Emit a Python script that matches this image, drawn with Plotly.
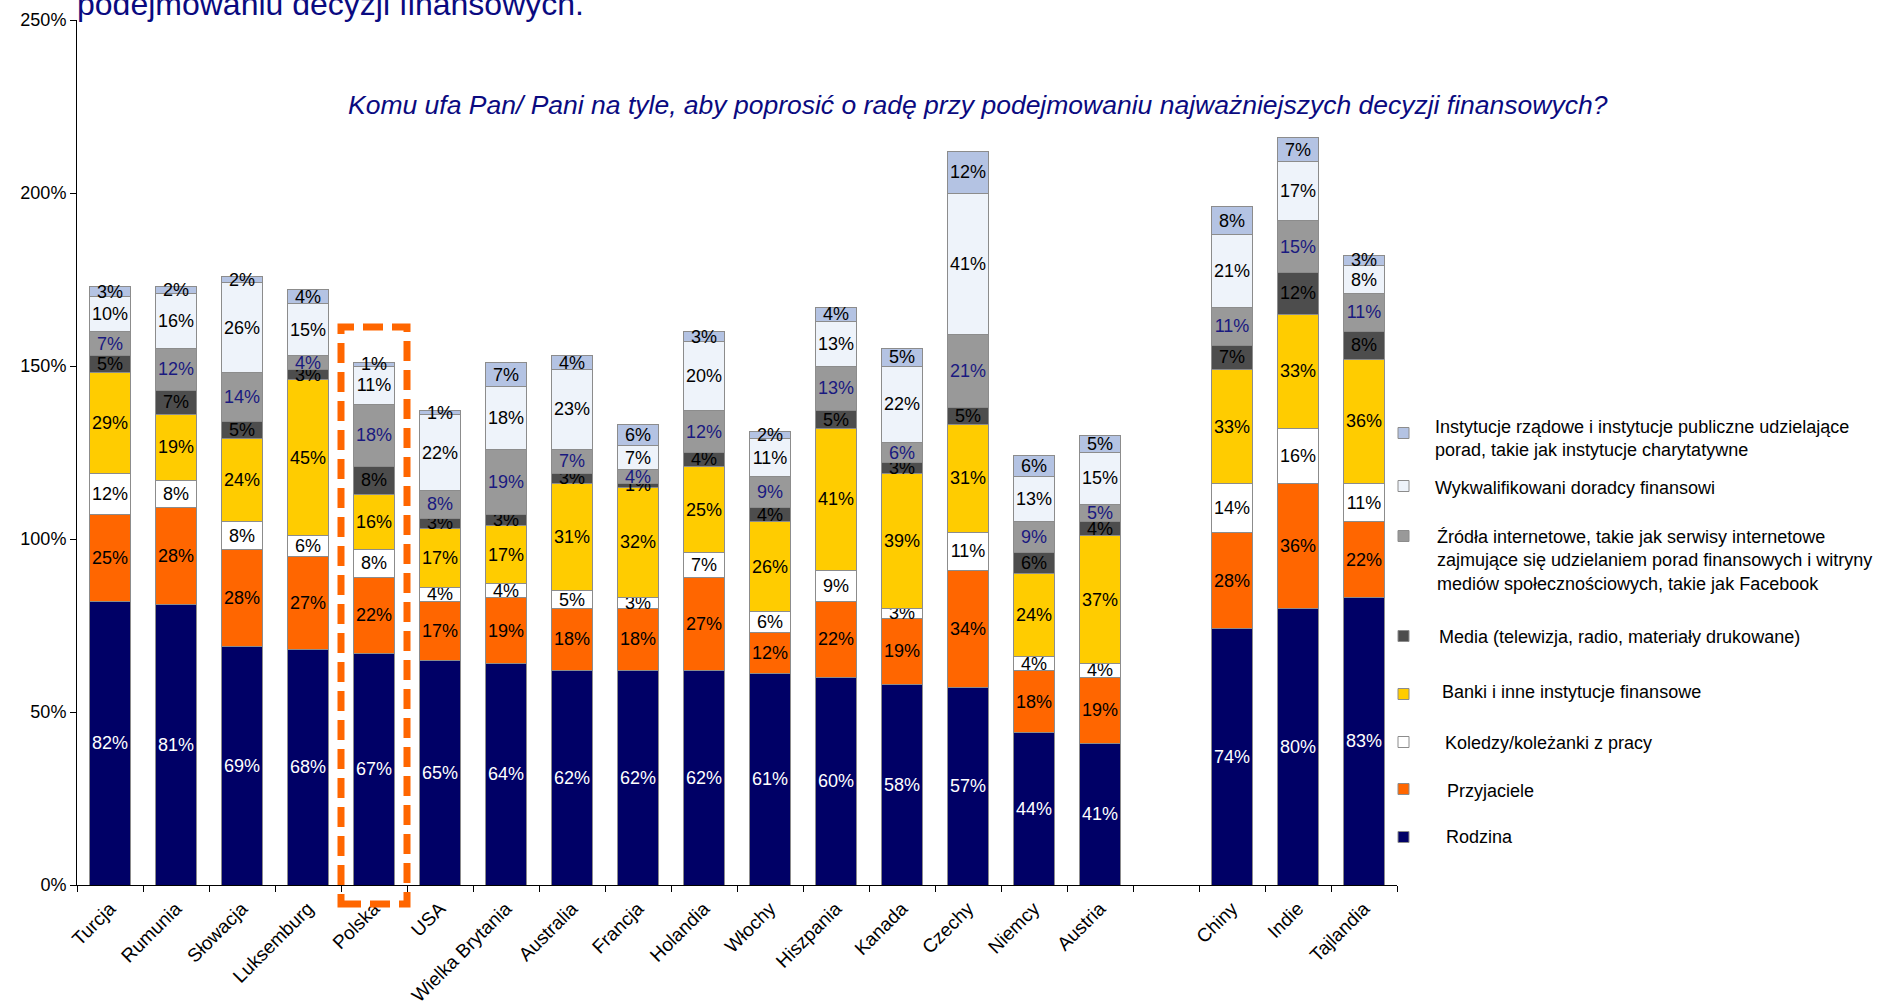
"""
Wykres słupkowy skumulowany: komu ufają respondenci przy decyzjach finansowych.
"""

import plotly.graph_objects as go


# Kraje (pusta kategoria oddziela grupę azjatycką)
COUNTRIES = ['Turcja', 'Rumunia', 'Słowacja', 'Luksemburg', 'Polska', 'USA',
             'Wielka Brytania', 'Australia', 'Francja', 'Holandia', 'Włochy',
             'Hiszpania', 'Kanada', 'Czechy', 'Niemcy', 'Austria', ' ',
             'Chiny', 'Indie', 'Tajlandia']

# Wartości serii w procentach (od dołu słupka)
rodzina = [82, 81, 69, 68, 67, 65, 64, 62, 62, 62, 61, 60, 58, 57, 44, 41, None, 74, 80, 83]
przyjaciele = [25, 28, 28, 27, 22, 17, 19, 18, 18, 27, 12, 22, 19, 34, 18, 19, None, 28, 36, 22]
koledzy = [12, 8, 8, 6, 8, 4, 4, 5, 3, 7, 6, 9, 3, 11, 4, 4, None, 14, 16, 11]
banki = [29, 19, 24, 45, 16, 17, 17, 31, 32, 25, 26, 41, 39, 31, 24, 37, None, 33, 33, 36]
media = [5, 7, 5, 3, 8, 3, 3, 3, 1, 4, 4, 5, 3, 5, 6, 4, None, 7, 12, 8]
zrodla = [7, 12, 14, 4, 18, 8, 19, 7, 4, 12, 9, 13, 6, 21, 9, 5, None, 11, 15, 11]
doradcy = [10, 16, 26, 15, 11, 22, 18, 23, 7, 20, 11, 13, 22, 41, 13, 15, None, 21, 17, 8]
instytucje = [3, 2, 2, 4, 1, 1, 7, 4, 6, 3, 2, 4, 5, 12, 6, 5, None, 8, 7, 3]

SERIES_NAMES = [
    'Rodzina',
    'Przyjaciele',
    'Koledzy/koleżanki z pracy',
    'Banki i inne instytucje finansowe',
    'Media (telewizja, radio, materiały drukowane)',
    'Źródła internetowe, takie jak serwisy internetowe<br>zajmujące się udzielaniem porad finansowych i witryny<br>mediów społecznościowych, takie jak Facebook',
    'Wykwalifikowani doradcy finansowi',
    'Instytucje rządowe i instytucje publiczne udzielające<br>porad, takie jak instytucje charytatywne',
]
SERIES_VALUES = [rodzina, przyjaciele, koledzy, banki, media, zrodla, doradcy, instytucje]

COLORS = ['#000066', '#FF6600', '#FFFFFF', '#FFCC00', '#4D4D4D', '#999999', '#EEF3FA', '#B4C3E3']
TEXT_COLORS = ['#FFFFFF', '#000000', '#000000', '#000000', '#000000', '#1A1A80', '#000000', '#000000']

NAVY = '#0A0A80'
FONT = 'Arial, Liberation Sans, sans-serif'

# Geometria obszaru wykresu w pikselach
W, H = 1901, 1006
M_L, M_R, M_T, M_B = 77, 504, 20, 121
PLOT_W = W - M_L - M_R
PLOT_H = H - M_T - M_B


def px_x(px):
    return (px - M_L) / PLOT_W


def px_y(py):
    return 1 - (py - M_T) / PLOT_H


fig = go.Figure()

for name, values, color, tcolor in zip(SERIES_NAMES, SERIES_VALUES, COLORS, TEXT_COLORS):
    labels = [f'{v}%' if v is not None else '' for v in values]
    fig.add_trace(go.Bar(
        x=COUNTRIES,
        y=values,
        name=name,
        marker=dict(color=color, line=dict(color='#8C8C8C', width=1)),
        text=labels,
        texttemplate='%{text}',
        textposition='inside',
        insidetextanchor='middle',
        textangle=0,
        textfont=dict(size=18, color=tcolor, family=FONT),
        showlegend=False,
    ))

# Legenda rysowana ręcznie (nieregularne odstępy jak w oryginale)
LEGEND_TEXT_Y = [837, 791, 743, 692, 637, 560, 488, 439]
LEGEND_BOX_Y = [837, 789, 742, 694, 636, 536, 486, 433]
LEGEND_TEXT_X = [1444, 1445, 1443, 1440, 1437, 1435, 1433, 1433]

for name, color, ty, by, tx in zip(SERIES_NAMES, COLORS, LEGEND_TEXT_Y, LEGEND_BOX_Y, LEGEND_TEXT_X):
    fig.add_shape(type='rect', xref='paper', yref='paper',
                  x0=px_x(1398), x1=px_x(1409), y0=px_y(by + 5.5), y1=px_y(by - 5.5),
                  fillcolor=color, line=dict(color='#8C8C8C', width=1))
    fig.add_annotation(text=name, xref='paper', yref='paper',
                       x=px_x(tx), y=px_y(ty), xanchor='left', yanchor='middle',
                       align='left', showarrow=False,
                       font=dict(size=18, color='#000000', family=FONT))

# Wyróżnienie Polski przerywaną ramką
fig.add_shape(type='rect', xref='paper', yref='paper',
              x0=px_x(341), x1=px_x(407), y0=px_y(904), y1=px_y(327),
              line=dict(color='#FF6600', width=7, dash='20px,9px'), layer='above')

# Tytuł (ucięty u góry jak w oryginale) i pytanie ankietowe
fig.add_annotation(text='podejmowaniu decyzji finansowych.', xref='paper', yref='paper',
                   x=px_x(75), y=px_y(4), xanchor='left', yanchor='middle',
                   showarrow=False, font=dict(size=32, color=NAVY, family=FONT))
fig.add_annotation(text='<i>Komu ufa Pan/ Pani na tyle, aby poprosić o radę przy podejmowaniu '
                        'najważniejszych decyzji finansowych?</i>',
                   xref='paper', yref='paper', x=px_x(978), y=px_y(105),
                   xanchor='center', yanchor='middle', showarrow=False,
                   font=dict(size=26.5, color=NAVY, family=FONT))

fig.update_layout(
    barmode='stack',
    bargap=0.37,
    width=W,
    height=H,
    margin=dict(l=M_L, r=M_R, t=M_T, b=M_B),
    paper_bgcolor='white',
    plot_bgcolor='white',
    font=dict(family=FONT, size=18, color='#000000'),
    uniformtext=dict(minsize=18, mode='show'),
    xaxis=dict(
        type='category',
        showline=True, linecolor='black', linewidth=1,
        ticks='outside', tickson='boundaries', ticklen=6, tickcolor='black',
        tickangle=-45, tickfont=dict(size=19), ticklabelstandoff=4,
        showgrid=False, automargin=False,
    ),
    yaxis=dict(
        range=[0, 250], dtick=50, ticksuffix='%',
        showline=True, linecolor='black', linewidth=1,
        ticks='outside', ticklen=6, tickcolor='black',
        tickfont=dict(size=18),
        showgrid=False, zeroline=False, automargin=False,
    ),
)

# Strona bez domyślnego marginesu body, żeby wykres wypełnił okno
fig.write_html('out.html', config={'displayModeBar': False},
               post_script="document.body.style.margin='0';")
